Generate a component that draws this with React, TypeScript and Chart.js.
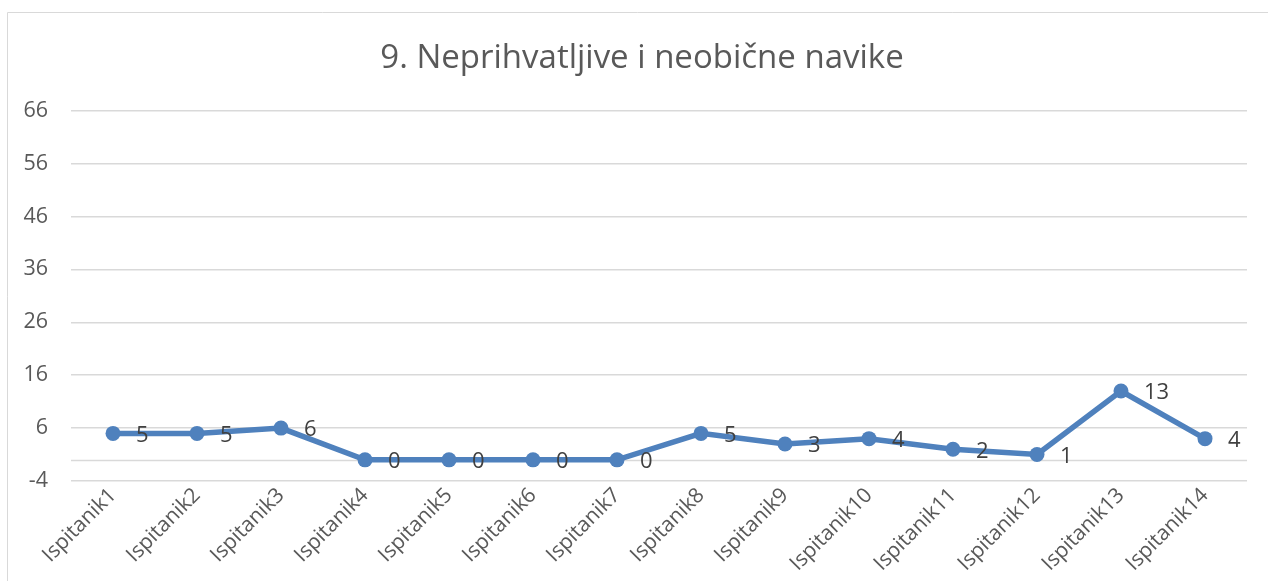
import React, { useEffect, useRef } from "react";
import { Chart, registerables } from "chart.js";

Chart.register(...registerables);

const TITLE = "9. Neprihvatljive i neobične navike";
const categories = [
  "Ispitanik1", "Ispitanik2", "Ispitanik3", "Ispitanik4", "Ispitanik5",
  "Ispitanik6", "Ispitanik7", "Ispitanik8", "Ispitanik9", "Ispitanik10",
  "Ispitanik11", "Ispitanik12", "Ispitanik13", "Ispitanik14",
];
const values = [5, 5, 6, 0, 0, 0, 0, 5, 3, 4, 2, 1, 13, 4];
const yMin = -4;
const yMax = 66;
const yStep = 10;

const FONT = "'Open Sans', Lato, sans-serif";
const LINE_COLOR = "#4f81bd";

const framePlugin = {
  id: "frame",
  afterLayout(chart: any) {
    if (chart.titleBlock) {
      chart.titleBlock.left = 37;
    }
  },
  beforeDraw(chart: any) {
    const ctx = chart.ctx;
    ctx.save();
    ctx.strokeStyle = "#d9d9d9";
    ctx.lineWidth = 1;
    ctx.beginPath();
    ctx.moveTo(7.5, chart.height);
    ctx.lineTo(7.5, 12.5);
    ctx.lineTo(chart.width, 12.5);
    ctx.stroke();
    ctx.restore();
  },
  beforeDatasetsDraw(chart: any) {
    const y = chart.scales.y;
    const x = chart.scales.x;
    const ctx = chart.ctx;
    const py = Math.round(y.getPixelForValue(0)) + 0.5;
    ctx.save();
    ctx.strokeStyle = "#d9d9d9";
    ctx.lineWidth = 1.5;
    ctx.beginPath();
    ctx.moveTo(x.left, py);
    ctx.lineTo(x.right, py);
    ctx.stroke();
    ctx.restore();
  },
};

const labelPlugin = {
  id: "pointLabels",
  afterDatasetsDraw(chart: any) {
    const ctx = chart.ctx;
    const meta = chart.getDatasetMeta(0);
    ctx.save();
    ctx.fillStyle = "#404040";
    ctx.font = `22px ${FONT}`;
    ctx.textAlign = "left";
    ctx.textBaseline = "middle";
    meta.data.forEach((pt: any, i: number) => {
      ctx.fillText(String(values[i]), pt.x + 23, pt.y + 2);
    });
    ctx.restore();
  },
};

export default function App() {
  const ref = useRef<HTMLCanvasElement>(null);
  useEffect(() => {
    document.body.style.margin = "0";
    const chart = new Chart(ref.current!, {
      type: "line",
      data: {
        labels: categories,
        datasets: [
          {
            data: values,
            borderColor: LINE_COLOR,
            backgroundColor: LINE_COLOR,
            borderWidth: 5.5,
            pointRadius: 7.5,
            pointBackgroundColor: LINE_COLOR,
            pointBorderColor: LINE_COLOR,
            pointBorderWidth: 0,
            tension: 0,
          },
        ],
      },
      options: {
        animation: false,
        responsive: false,
        maintainAspectRatio: false,
        layout: { padding: { left: 8, right: 21, top: 0, bottom: 6 } },
        plugins: {
          legend: { display: false },
          tooltip: { enabled: false },
          title: {
            display: true,
            text: TITLE,
            color: "#595959",
            font: { family: FONT, size: 33, weight: "normal" },
            padding: { top: 39, bottom: 32 },
          },
        },
        scales: {
          x: {
            offset: true,
            grid: { display: false, drawTicks: false },
            border: { display: false },
            ticks: {
              color: "#595959",
              font: { family: FONT, size: 21 },
              minRotation: 45,
              maxRotation: 45,
              padding: 2,
              autoSkip: false,
            },
            afterFit(s: any) {
              s.height = 94;
            },
          },
          y: {
            min: yMin,
            max: yMax,
            grid: { color: "#d9d9d9", lineWidth: 1.5, drawTicks: false },
            border: { display: false },
            ticks: {
              stepSize: yStep,
              color: "#595959",
              font: { family: FONT, size: 21.5 },
              padding: 23,
            },
            afterFit(s: any) {
              s.width = 63;
            },
          },
        },
      },
      plugins: [framePlugin, labelPlugin],
    });
    return () => chart.destroy();
  }, []);
  return (
    <div style={{ position: "absolute", left: 0, top: 0, width: 1268, height: 581 }}>
      <canvas ref={ref} width={1268} height={581} style={{ display: "block" }} />
    </div>
  );
}
